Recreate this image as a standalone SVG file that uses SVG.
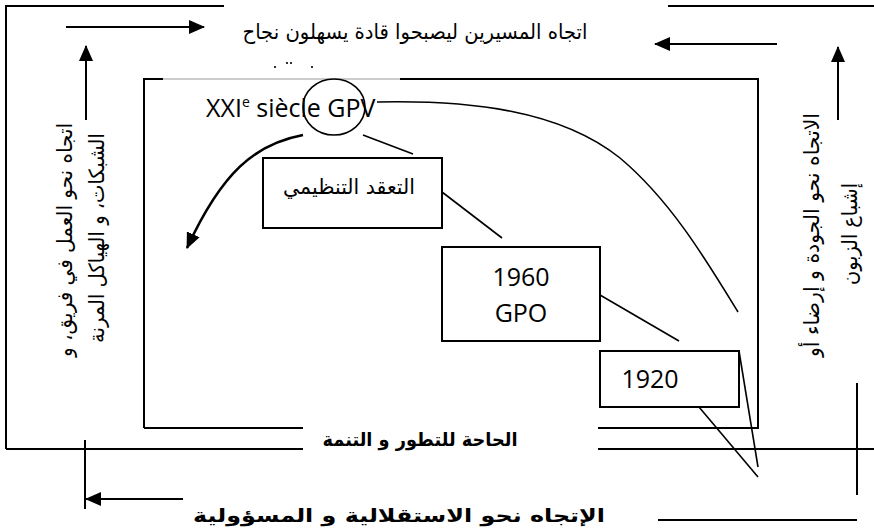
<svg xmlns="http://www.w3.org/2000/svg" width="874" height="532" viewBox="0 0 874 532">
<style>
.ln{stroke:#000;stroke-width:2;fill:none}
.thin{stroke:#000;stroke-width:1.6;fill:none}
.box{stroke:#000;stroke-width:2;fill:#fff}
.ar{font-family:"DejaVu Sans",sans-serif;font-size:21px;fill:#000}
.arb{font-family:"DejaVu Sans",sans-serif;font-size:19px;font-weight:bold;fill:#000}
.lat{font-family:"Open Sans",sans-serif;font-size:25px;fill:#000}
</style>
<defs>
<marker id="ah2" markerWidth="16" markerHeight="14" refX="15" refY="7" orient="auto" markerUnits="userSpaceOnUse" viewBox="0 0 16 14">
<path d="M0,0 L16,7 L0,14 Z" fill="#000"/>
</marker>
</defs>

<g id="frame">
<path class="ln" d="M6,449 L6,6 L224,6 M668,6 L874,6"/>
<path class="ln" d="M6,449 L303,449 M598,449 L874,449"/>
<path class="ln" d="M144,428 L144,79 L163,79 M400,79 L758,79 L758,428 L598,428 M303,428 L144,428"/>
<path d="M163,79 L400,79" stroke="#999" stroke-width="1" fill="none"/>
</g>

<g id="side-marks">
<path class="ln" d="M85,440 L85,509"/>
<path class="ln" d="M857,383 L857,495"/>
<path class="ln" d="M658,520 L857,520"/>
</g>

<g id="connectors">
<path class="ln" d="M66,27 L204,27" marker-end="url(#ah2)"/>
<path class="ln" d="M777,44 L655,44" marker-end="url(#ah2)"/>
<path class="ln" d="M86,120 L86,46" marker-end="url(#ah2)"/>
<path class="ln" d="M838,120 L838,47" marker-end="url(#ah2)"/>
<path class="ln" d="M183,499 L86,499" marker-end="url(#ah2)"/>
<path d="M303,135 C255,144 222,172 187,248" stroke="#000" stroke-width="2.6" fill="none" marker-end="url(#ah2)"/>
<path class="thin" d="M377,102 C470,100 560,110 620,158 C670,200 705,258 738,312"/>
<path class="thin" d="M363,135 L413,154"/>
<path class="thin" d="M442,192 L502,238"/>
<path class="thin" d="M600,295 L679,341"/>
<path class="thin" d="M739,351 L758,467"/>
<path class="thin" d="M699,407 L758,477"/>
</g>

<g id="title-top">
<text class="ar" x="415" y="39" text-anchor="middle" textLength="345" lengthAdjust="spacingAndGlyphs">اتجاه المسيرين ليصبحوا قادة يسهلون نجاح</text>
<circle cx="275" cy="67" r="1.1"/><circle cx="287" cy="63" r="1.1"/><circle cx="291" cy="63" r="1.1"/><circle cx="312" cy="67" r="1.1"/>
</g>

<g id="left-text">
<text class="ar" transform="translate(65,240) rotate(-90)" text-anchor="middle" dominant-baseline="central" textLength="234" lengthAdjust="spacingAndGlyphs">اتجاه نحو العمل في فريق، و</text>
<text class="ar" transform="translate(97,238) rotate(-90)" text-anchor="middle" dominant-baseline="central" textLength="210" lengthAdjust="spacingAndGlyphs">الشبكات، و الهياكل المرنة</text>
</g>

<g id="right-text">
<text class="ar" transform="translate(812,235) rotate(-90)" text-anchor="middle" dominant-baseline="central" textLength="244" lengthAdjust="spacingAndGlyphs">الاتجاه نحو الجودة و إرضاء أو</text>
<text class="ar" transform="translate(850,234) rotate(-90)" text-anchor="middle" dominant-baseline="central" textLength="102" lengthAdjust="spacingAndGlyphs">إشباع الزبون</text>
</g>

<g id="bottom-text">
<text class="arb" x="420" y="446" text-anchor="middle" textLength="195" lengthAdjust="spacingAndGlyphs">الحاحة للتطور و التنمة</text>
<text class="arb" x="399" y="522" text-anchor="middle" textLength="412" lengthAdjust="spacingAndGlyphs">الإتجاه نحو الاستقلالية و المسؤولية</text>
</g>

<g id="gpv">
<text class="lat" x="206" y="117" font-size="25">XXI<tspan font-size="14" dy="-10">e</tspan><tspan dy="10"> siècle GPV</tspan></text>
<ellipse cx="334" cy="107" rx="31" ry="28" class="thin"/>
</g>

<g id="node-complexity">
<rect class="box" x="263" y="158" width="179" height="70"/>
<text class="ar" x="349" y="194" font-size="22" text-anchor="middle" textLength="132" lengthAdjust="spacingAndGlyphs">التعقد التنظيمي</text>
</g>

<g id="node-1960">
<rect class="box" x="442" y="247" width="158" height="94"/>
<text class="lat" x="521" y="286" text-anchor="middle">1960</text>
<text class="lat" x="521" y="322" text-anchor="middle">GPO</text>
</g>

<g id="node-1920">
<rect class="box" x="600" y="351" width="139" height="56"/>
<text class="lat" x="650" y="388" text-anchor="middle">1920</text>
</g>
</svg>
